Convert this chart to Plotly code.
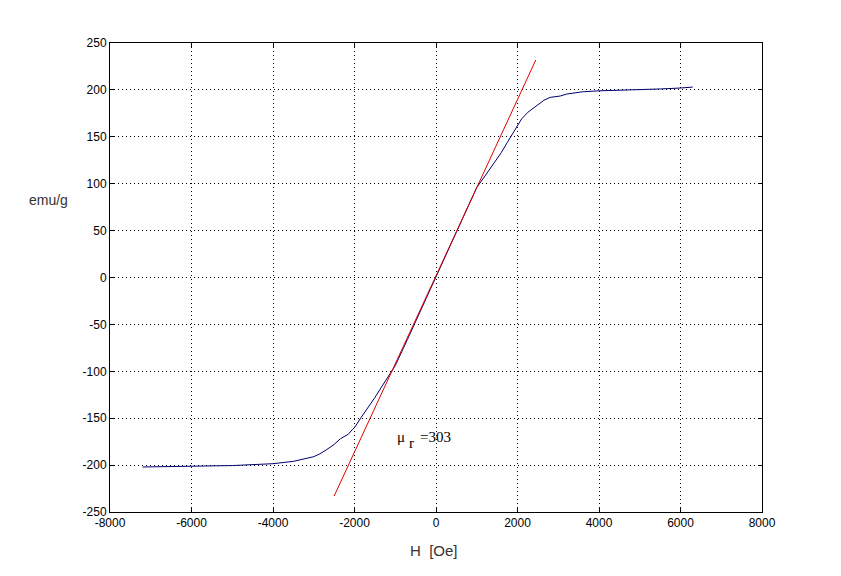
import plotly.graph_objects as go

H = [-7200, -6000, -5000, -4000, -3500, -3000, -2850, -2700, -2500, -2350, -2150, -2050, -2000,
     -1850, -1650, -1500, -1370, -1200, -1000, -700, -500, -250, 0, 250, 500, 750, 1000, 1150,
     1300, 1450, 1600, 1750, 1850, 2000, 2100, 2250, 2400, 2500, 2650, 2800, 3050, 3200, 3600,
     4000, 4500, 5000, 5500, 6000, 6300]
M = [-202, -201, -200.5, -198.5, -196, -191, -188, -184, -178, -172, -167, -162, -160,
     -150, -138, -128, -119, -108, -94, -66, -47, -24, 0, 24, 48, 72, 96, 105,
     114, 123, 133, 144, 151, 163, 169, 176, 181, 184, 189, 192, 193.5, 195.5, 198,
     199, 199.5, 200, 201, 202, 203]

fit_H = [-2500, 2450]
fit_M = [-233, 232]

x_ticks = [-8000, -6000, -4000, -2000, 0, 2000, 4000, 6000, 8000]
y_ticks = [-250, -200, -150, -100, -50, 0, 50, 100, 150, 200, 250]

fig = go.Figure()
fig.add_trace(go.Scatter(x=H, y=M, mode="lines", line=dict(color="#00006e", width=1), showlegend=False))
fig.add_trace(go.Scatter(x=fit_H, y=fit_M, mode="lines", line=dict(color="#e00000", width=1), showlegend=False))

axis_common = dict(showline=True, linecolor="black", linewidth=1, mirror="ticks",
                   ticks="inside", ticklen=4, tickcolor="black",
                   showgrid=True, gridcolor="black", griddash="1px,3px", gridwidth=1,
                   zeroline=False, tickfont=dict(family="Liberation Sans, Arial", size=12, color="black"))

fig.update_xaxes(range=[-8000, 8000], tickvals=x_ticks, ticktext=[str(v) for v in x_ticks], **axis_common)
fig.update_yaxes(range=[-250, 250], tickvals=y_ticks, ticktext=[str(v) for v in y_ticks], **axis_common)

serif = dict(family="Liberation Serif, Times New Roman", size=15, color="black")
fig.add_annotation(x=-1006, y=-170, xref="x", yref="y", text="μ", showarrow=False, xanchor="left", font=serif)
fig.add_annotation(x=-700, y=-176, xref="x", yref="y", text="r", showarrow=False, xanchor="left", font=serif)
fig.add_annotation(x=-440, y=-170, xref="x", yref="y", text="=303", showarrow=False, xanchor="left", font=serif)

fig.add_annotation(x=-0.062, y=0.665, xref="paper", yref="paper", text="emu/g", showarrow=False,
                   xanchor="right", font=dict(family="Liberation Sans, Arial", size=14, color="#333333"))
fig.add_annotation(x=0.497, y=-0.06, xref="paper", yref="paper", text="H  [Oe]", showarrow=False,
                   yanchor="top", font=dict(family="Liberation Sans, Arial", size=15, color="#333333"))

fig.update_layout(width=841, height=576, margin=dict(l=102, r=87, t=35, b=72),
                  plot_bgcolor="white", paper_bgcolor="white")
fig.write_html("out.html")
